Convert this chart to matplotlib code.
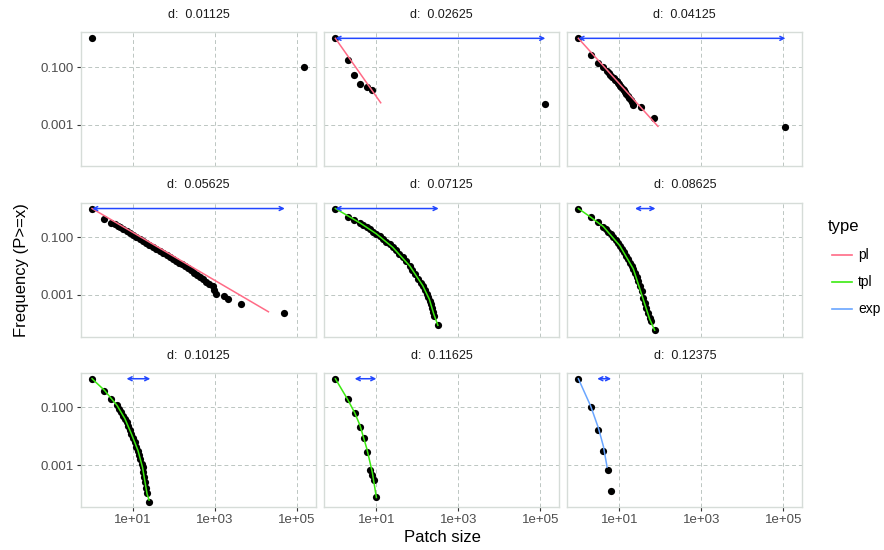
import numpy as np
import matplotlib
matplotlib.use("Agg")
import matplotlib.pyplot as plt
from matplotlib.lines import Line2D

plt.rcParams.update({"font.family": ["Liberation Sans", "DejaVu Sans"], "font.size": 9})

# values are log10 readings (x = patch size, y = frequency P>=x)
TITLES = ["d:  0.01125", "d:  0.02625", "d:  0.04125",
          "d:  0.05625", "d:  0.07125", "d:  0.08625",
          "d:  0.10125", "d:  0.11625", "d:  0.12375"]
FIT_TYPE = [None, "pl", "pl", "pl", "tpl", "tpl", "tpl", "tpl", "exp"]

pts_x = [
    [0, 5.16],
    [0, 0.30, 0.46, 0.60, 0.77, 0.89, 5.10],
    [0, 0.30, 0.49, 0.61, 0.69, 0.74, 0.78, 0.82, 0.86, 0.90, 0.93, 0.96, 0.99, 1.02, 1.05,
     1.08, 1.11, 1.14, 1.17, 1.20, 1.24, 1.28, 1.31, 1.34, 1.52, 1.84, 5.04],
    [0, 0.30, 0.47, 0.56, 0.62, 0.68, 0.76, 0.84, 0.92, 1.00, 1.08, 1.16, 1.24, 1.32, 1.40,
     1.48, 1.56, 1.65, 1.74, 1.82, 1.90, 1.98, 2.05, 2.12, 2.19, 2.26, 2.33, 2.41, 2.48,
     2.56, 2.63, 2.70, 2.78, 2.86, 2.94, 2.98, 3.02, 3.22, 3.32, 3.64, 4.69],
    [0, 0.30, 0.46, 0.60, 0.68, 0.76, 0.84, 0.92, 1.00, 1.08, 1.16, 1.24, 1.32, 1.40, 1.48,
     1.56, 1.64, 1.72, 1.81, 1.88, 1.95, 2.02, 2.08, 2.13, 2.18, 2.23, 2.27, 2.30, 2.33,
     2.36, 2.39, 2.41, 2.50],
    [0, 0.30, 0.49, 0.61, 0.67, 0.73, 0.79, 0.85, 0.91, 0.96, 1.01, 1.06, 1.11, 1.16, 1.21,
     1.26, 1.30, 1.34, 1.38, 1.42, 1.46, 1.50, 1.54, 1.58, 1.62, 1.66, 1.70, 1.74, 1.77, 1.86],
    [0, 0.30, 0.47, 0.61, 0.66, 0.71, 0.76, 0.80, 0.84, 0.88, 0.92, 0.96, 1.00, 1.04, 1.08,
     1.12, 1.15, 1.18, 1.21, 1.23, 1.25, 1.27, 1.29, 1.31, 1.33, 1.40],
    [0, 0.30, 0.47, 0.60, 0.69, 0.77, 0.84, 0.89, 0.94, 1.00],
    [0, 0.30, 0.49, 0.61, 0.72, 0.79],
]
pts_y = [
    [0, -1.0],
    [0, -0.77, -1.28, -1.58, -1.69, -1.81, -2.29],
    [0, -0.59, -0.85, -1.00, -1.14, -1.21, -1.27, -1.33, -1.39, -1.45, -1.50, -1.55, -1.60,
     -1.65, -1.70, -1.75, -1.81, -1.87, -1.93, -1.99, -2.07, -2.15, -2.23, -2.32, -2.40,
     -2.77, -3.09],
    [0, -0.36, -0.51, -0.55, -0.59, -0.64, -0.71, -0.78, -0.85, -0.91, -0.98, -1.05, -1.12,
     -1.19, -1.26, -1.33, -1.40, -1.47, -1.55, -1.62, -1.69, -1.76, -1.82, -1.88, -1.94,
     -2.00, -2.07, -2.15, -2.23, -2.31, -2.38, -2.46, -2.54, -2.62, -2.71, -2.84, -2.96,
     -3.03, -3.15, -3.32, -3.62],
    [0, -0.30, -0.39, -0.50, -0.57, -0.65, -0.72, -0.80, -0.88, -0.96, -1.06, -1.15, -1.25,
     -1.35, -1.45, -1.57, -1.70, -1.83, -1.99, -2.13, -2.28, -2.44, -2.58, -2.68, -2.82,
     -2.96, -3.08, -3.20, -3.33, -3.46, -3.60, -3.72, -4.06],
    [0, -0.30, -0.48, -0.63, -0.71, -0.80, -0.90, -1.00, -1.10, -1.19, -1.29, -1.40, -1.52,
     -1.64, -1.77, -1.91, -2.00, -2.10, -2.24, -2.38, -2.53, -2.69, -2.88, -3.10, -3.30,
     -3.45, -3.62, -3.80, -3.92, -4.23],
    [0, -0.43, -0.70, -0.93, -1.05, -1.17, -1.29, -1.39, -1.51, -1.64, -1.78, -1.92, -2.06,
     -2.21, -2.36, -2.50, -2.64, -2.80, -2.95, -3.08, -3.24, -3.42, -3.60, -3.80, -3.98, -4.27],
    [0, -0.70, -1.18, -1.69, -2.06, -2.56, -3.17, -3.35, -3.52, -4.13],
    [0, -0.97, -1.78, -2.52, -3.17, -3.90],
]
fit_x = [
    [],
    [0, 1.105],
    [0, 1.94],
    [0, 4.30],
    [0, 0.30, 0.60, 1.00, 1.40, 1.81, 2.13, 2.29, 2.40, 2.50],
    [0, 0.30, 0.61, 1.01, 1.34, 1.58, 1.74, 1.86],
    [0, 0.30, 0.61, 0.80, 0.96, 1.12, 1.23, 1.34, 1.39],
    [0, 0.30, 0.47, 0.60, 0.77, 0.90, 1.00],
    [0, 0.30, 0.49, 0.61, 0.70],
]
fit_y = [
    [],
    [0, -2.24],
    [0, -3.06],
    [0, -3.59],
    [0, -0.25, -0.50, -0.88, -1.35, -1.99, -2.68, -3.15, -3.67, -4.06],
    [0, -0.30, -0.63, -1.29, -2.10, -3.15, -3.85, -4.23],
    [0, -0.40, -0.93, -1.39, -1.92, -2.50, -3.08, -4.00, -4.22],
    [0, -0.72, -1.18, -1.62, -2.45, -3.25, -4.13],
    [0, -0.95, -1.72, -2.35, -3.07],
]
# blue double arrow at the top of each panel (log10 x range)
arrow_x = [None, (0, 5.12), (0, 5.05), (0, 4.70), (0, 2.52),
           (1.38, 1.88), (0.84, 1.42), (0.47, 1.00), (0.46, 0.80)]

TYPE_COL = {"pl": "#FF6B86", "tpl": "#3BEA10", "exp": "#6AA6FF"}
ARROW = "#2247FF"; GRID = "#BCC6C2"; BORDER = "#D6DCD8"; TXT = "#4D4D4D"

W, H = 884, 550
fig = plt.figure(figsize=(W / 100, H / 100), dpi=100)
lefts = [81, 324.3, 567.3]; tops = [32.3, 202.5, 372.7]; pw, ph = 235, 134

for i in range(9):
    r, c = divmod(i, 3)
    ax = fig.add_axes([lefts[c] / W, 1 - (tops[r] + ph) / H, pw / W, ph / H])
    ax.set_xscale("log"); ax.set_yscale("log")
    ax.set_xlim(10 ** -0.27, 10 ** 5.46); ax.set_ylim(10 ** -4.45, 10 ** 0.21)
    ax.set_xticks([1e1, 1e3, 1e5]); ax.set_yticks([1e-1, 1e-3])
    ax.minorticks_off()
    ax.grid(True, color=GRID, lw=0.7, ls=(0, (4, 3)))
    ax.set_axisbelow(True)
    for s in ax.spines.values():
        s.set_color(BORDER); s.set_linewidth(1.0)
    ax.tick_params(length=3, width=0.8, color="#333333", labelcolor=TXT, labelsize=9.5, pad=2)
    if c == 0:
        ax.set_yticklabels(["0.100", "0.001"])
    else:
        ax.tick_params(axis="y", length=0, labelleft=False)
    if r == 2:
        ax.set_xticklabels(["1e+01", "1e+03", "1e+05"])
    else:
        ax.tick_params(axis="x", length=0, labelbottom=False)

    if FIT_TYPE[i]:
        ax.plot(10 ** np.array(fit_x[i]), 10 ** np.array(fit_y[i]), color=TYPE_COL[FIT_TYPE[i]], lw=1.1, zorder=3)
    ax.scatter(10 ** np.array(pts_x[i]), 10 ** np.array(pts_y[i]), s=27, color="black", lw=0, zorder=2)
    if arrow_x[i]:
        a, b = arrow_x[i]
        ax.annotate("", xy=(10 ** b, 1), xytext=(10 ** a, 1),
                    arrowprops=dict(arrowstyle="<->", color=ARROW, lw=1.1, mutation_scale=7,
                                    shrinkA=0, shrinkB=0), zorder=4)
    ax.text(0.5, 1 + 17 / ph, TITLES[i], transform=ax.transAxes, ha="center", va="center",
            fontsize=9, color="#1A1A1A")

fig.text(442 / W, 1 - 538 / H, "Patch size", ha="center", va="center", fontsize=12, color="black")
fig.text(22 / W, 1 - 270 / H, "Frequency (P>=x)", ha="center", va="center", rotation=90,
         fontsize=12, color="black")

# legend drawn by hand
fig.text(828 / W, 1 - 227 / H, "type", ha="left", va="center", fontsize=12, color="black")
for lab, yy in zip(["pl", "tpl", "exp"], [255, 282, 309]):
    fig.add_artist(Line2D([832 / W, 852 / W], [1 - yy / H] * 2, color=TYPE_COL[lab], lw=1.2))
    fig.text(858 / W, 1 - yy / H, lab, ha="left", va="center", fontsize=10, color="black")

fig.savefig("out.png", dpi=100)
